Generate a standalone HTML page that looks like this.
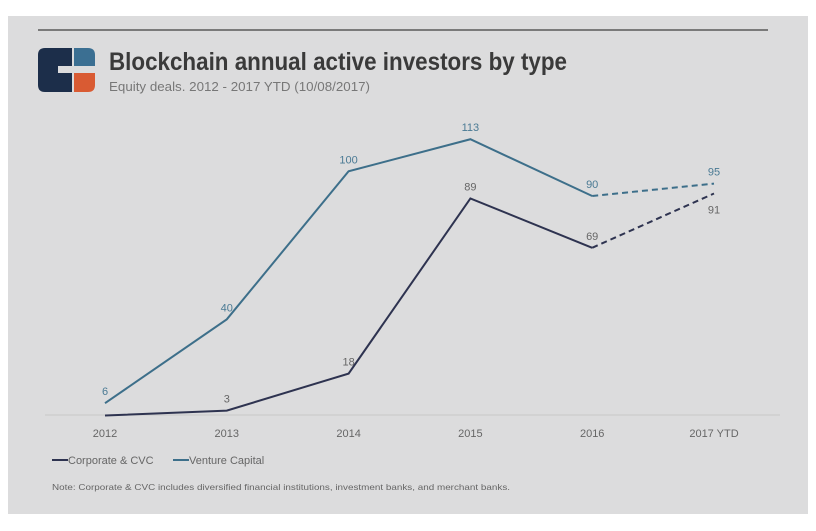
<!DOCTYPE html>
<html><head><meta charset="utf-8"><style>
body{margin:0;background:#fff;width:816px;height:531px;overflow:hidden;font-family:"Liberation Sans",sans-serif}
#panel{position:absolute;left:8px;top:16px;width:800px;height:498px;background:#dcdcdd}
</style></head><body>
<div id="panel"></div>
<svg width="816" height="531" style="position:absolute;left:0;top:0">
<line x1="38" y1="30" x2="768" y2="30" stroke="#7a7a7a" stroke-width="2"/>
<g>
<path d="M38 55 Q38 48 45 48 L72 48 L72 66 L58 66 L58 73 L72 73 L72 92 L45 92 Q38 92 38 85 Z" fill="#1c2e4a"/>
<path d="M74 48 L88 48 Q95 48 95 55 L95 66 L74 66 Z" fill="#3b6f92"/>
<path d="M74 73 L95 73 L95 85 Q95 92 88 92 L74 92 Z" fill="#d95b33"/>
</g>
<text x="109" y="70" font-size="25" font-weight="bold" fill="#3a3a3a" textLength="458" lengthAdjust="spacingAndGlyphs">Blockchain annual active investors by type</text>
<text x="109" y="91" font-size="13" fill="#777" textLength="261" lengthAdjust="spacingAndGlyphs">Equity deals. 2012 - 2017 YTD (10/08/2017)</text>
<line x1="45" y1="415" x2="780" y2="415" stroke="#c8c8c8" stroke-width="1"/>
<g id="xt"></g><g id="series"></g>
<g>
<line x1="52" y1="460" x2="68" y2="460" stroke="#2e3350" stroke-width="2"/>
<text x="68" y="464" font-size="11" fill="#666">Corporate &amp; CVC</text>
<line x1="173" y1="460" x2="189" y2="460" stroke="#3d6f8a" stroke-width="2"/>
<text x="189" y="464" font-size="11" fill="#666">Venture Capital</text>
</g>
<text x="52" y="490" font-size="8.5" fill="#666" textLength="458" lengthAdjust="spacingAndGlyphs">Note: Corporate &amp; CVC includes diversified financial institutions, investment banks, and merchant banks.</text>
</svg>
<script>
const categories=["2012","2013","2014","2015","2016","2017 YTD"];
const corporate=[1,3,18,89,69,91];
const venture=[6,40,100,113,90,95];
const corpLabels=["","3","18","89","69","91"];
const ventLabels=["6","40","100","113","90","95"];
const NS="http://www.w3.org/2000/svg";
const x=i=>105+i*121.8;
const y=v=>418-v*2.467;
function mk(t,a,p){const e=document.createElementNS(NS,t);for(const k in a)e.setAttribute(k,a[k]);p.appendChild(e);return e;}
const xt=document.getElementById('xt'),sg=document.getElementById('series');
categories.forEach((c,i)=>{const t=mk('text',{x:x(i),y:437,'font-size':11,fill:'#666','text-anchor':'middle'},xt);t.textContent=c;

});
function draw(vals,labels,col,name,below){
const n=vals.length;
const solid=vals.slice(0,n-1).map((v,i)=>x(i)+','+y(v)).join(' ');
const p=mk('polyline',{points:solid,fill:'none',stroke:col,'stroke-width':2},sg);


const d=mk('line',{x1:x(n-2),y1:y(vals[n-2]),x2:x(n-1),y2:y(vals[n-1]),stroke:col,'stroke-width':2,'stroke-dasharray':'6,4'},sg);


vals.forEach((v,i)=>{if(!labels[i])return;const b=below&&i==n-1;
const t=mk('text',{x:x(i),y:b?y(v)+20:y(v)-8,'font-size':11,fill:col==='#3d6f8a'?'#4a7a94':'#666','text-anchor':'middle'},sg);t.textContent=labels[i];

});
}
draw(venture,ventLabels,'#3d6f8a','venture',false);
draw(corporate,corpLabels,'#2e3350','corporate',true);
</script>
</body></html>
